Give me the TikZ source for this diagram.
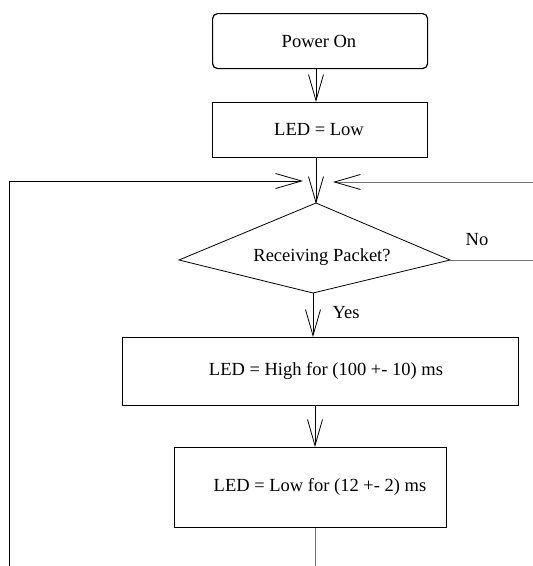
\documentclass[tikz,border=0pt]{standalone}
\usepackage{fontspec}
\setmainfont{Liberation Serif}
\usetikzlibrary{arrows.meta,calc}
\begin{document}
\begin{tikzpicture}[x=1pt,y=-1pt,
  every node/.style={font=\fontsize{18.5}{22}\selectfont},
  box/.style={draw,line width=1.2pt,inner sep=0pt,anchor=north west},
  conn/.style={line width=0.8pt},
  grayconn/.style={line width=0.9pt,draw={rgb,255:red,115;green,115;blue,115}},
  arr/.style={-{Straight Barb[length=26pt,width=15pt,line width=0.8pt,color=black]}}]
\useasboundingbox (0,0) rectangle (533,566);
% boxes
\node[box,rounded corners=5pt,minimum width=215pt,minimum height=55pt] (pw) at (212,13) {};
\node (pwt) at (319,41) {Power On};
\node[box,minimum width=215pt,minimum height=55pt] (low) at (212,102) {};
\node (lowt) at (319,130) {LED = Low};
\node[box,minimum width=396pt,minimum height=68pt] (high) at (122,337) {};
\node (hight) at (326,371) {LED = High for (100 +- 10) ms};
\node[box,minimum width=272pt,minimum height=80pt] (low2) at (174,447) {};
\node (low2t) at (320,487) {LED = Low for (12 +- 2) ms};
% diamond
\coordinate (dt) at (316,203);
\coordinate (dl) at (179,260);
\coordinate (dr) at (450,260);
\coordinate (db) at (313,293);
\draw[line width=0.8pt] (dt) -- (dr) -- (db) -- (dl) -- cycle;
\node (dtext) at (322,257) {Receiving Packet?};
\node (no) at (477,240) {No};
\node (yes) at (346,313) {Yes};
% free ends
\coordinate (lb) at (9,566);
\coordinate (lc) at (9,181);
\coordinate (lt) at (303,181);
\coordinate (rs) at (533,182);
\coordinate (rt) at (333,182);
\coordinate (ne) at (533,260);
\coordinate (bot) at (315,566);
% connectors
\draw[conn,arr] (pw.south -| dt) -- (low.north -| dt);
\draw[conn,arr] (low.south -| dt) -- ([yshift=-1pt]dt);
\draw[conn,arr] (lb) -- (lc) -- (lt);
\draw[grayconn,arr] (rs) -- (rt);
\draw[grayconn] (dr) -- (ne);
\draw[conn,arr] (db) -- (high.north -| db);
\draw[conn,arr] (high.south -| bot) -- (low2.north -| bot);
\draw[grayconn] (low2.south -| bot) -- (bot);
\end{tikzpicture}
\end{document}
